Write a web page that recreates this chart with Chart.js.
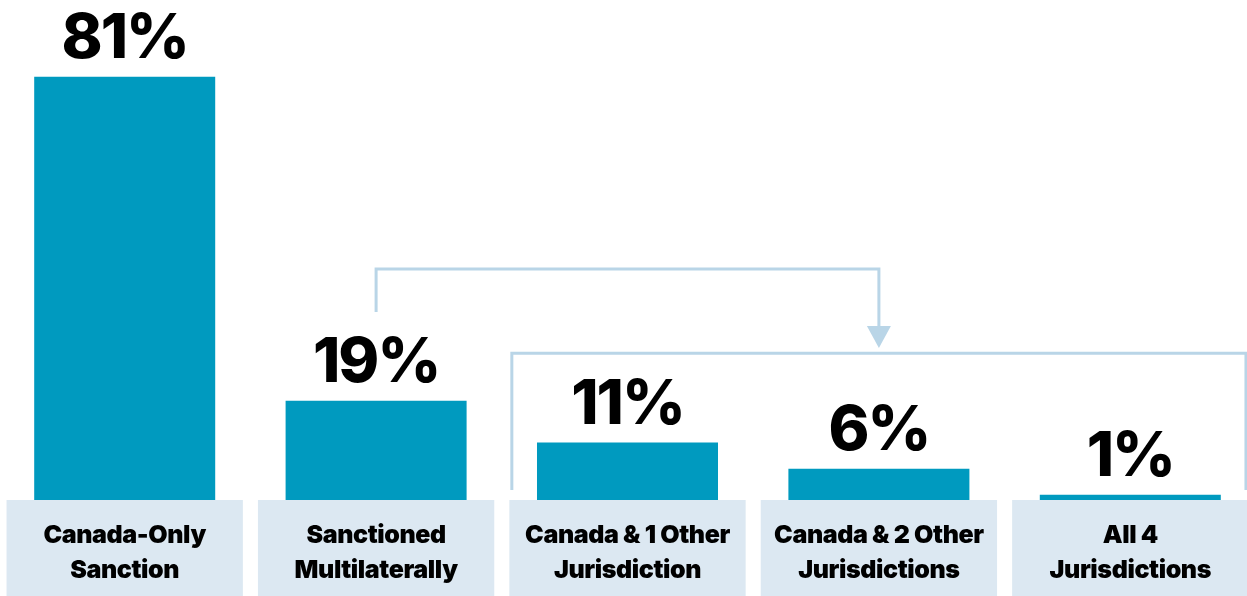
<!DOCTYPE html>
<html>
<head>
<meta charset="utf-8">
<script src="https://cdn.jsdelivr.net/npm/chart.js@4/dist/chart.umd.min.js"></script>
<style>
  html, body { margin: 0; padding: 0; background: #fff; overflow: hidden; }
  #wrap { position: absolute; left: -1px; top: 0; width: 1257px; height: 596px; }
</style>
</head>
<body>
<div id="wrap"><canvas id="chart"></canvas></div>
<script>
// Data
const categories = [
  ["Canada-Only", "Sanction"],
  ["Sanctioned", "Multilaterally"],
  ["Canada & 1 Other", "Jurisdiction"],
  ["Canada & 2 Other", "Jurisdictions"],
  ["All 4", "Jurisdictions"]
];
const shares = [81, 19, 11, 6, 1];
const valueLabels = ["81%", "19%", "11%", "6%", "1%"];

const barColor = "#009abf";
const boxColor = "#dce8f2";
const bracketColor = "#b9d5e7";

// bracket levels, in axis units
const topBracket = { from: 1, to: 3, start: 36, level: 44.2, tip: 29.1 };
const lowBracket = { from: 2, to: 4, level: 28.1, end: 1.9 };

const boxPlugin = {
  id: "boxes",
  afterDatasetsDraw(chart) {
    const ctx = chart.ctx;
    const x = chart.scales.x;
    const y = chart.scales.y;
    const area = chart.chartArea;
    const step = x.getPixelForValue(1) - x.getPixelForValue(0);
    const boxW = step * 0.94;

    ctx.save();
    // category boxes
    categories.forEach((lines, i) => {
      const cx = x.getPixelForValue(i);
      ctx.fillStyle = boxColor;
      ctx.fillRect(cx - boxW / 2, area.bottom, boxW, chart.height - area.bottom);
      ctx.fillStyle = "#000";
      ctx.font = "900 25px Inter";
      ctx.letterSpacing = "-0.4px";
      ctx.textAlign = "center";
      ctx.textBaseline = "middle";
      lines.forEach((t, j) => ctx.fillText(t, cx, area.bottom + 35 + j * 35));
    });

    // value labels
    const meta = chart.getDatasetMeta(0);
    ctx.font = "800 62px Inter";
    ctx.letterSpacing = "-2px";
    ctx.textBaseline = "alphabetic";
    meta.data.forEach((bar, i) => {
      ctx.fillText(valueLabels[i], bar.x, bar.y - 19);
    });

    // brackets
    ctx.strokeStyle = bracketColor;
    ctx.fillStyle = bracketColor;
    ctx.lineWidth = 3;
    const x1 = x.getPixelForValue(topBracket.from);
    const x2 = x.getPixelForValue(topBracket.to);
    const tipY = y.getPixelForValue(topBracket.tip);
    ctx.beginPath();
    ctx.moveTo(x1, y.getPixelForValue(topBracket.start));
    ctx.lineTo(x1, y.getPixelForValue(topBracket.level));
    ctx.lineTo(x2, y.getPixelForValue(topBracket.level));
    ctx.lineTo(x2, tipY - 20);
    ctx.stroke();
    ctx.beginPath();
    ctx.moveTo(x2 - 12, tipY - 22);
    ctx.lineTo(x2 + 12, tipY - 22);
    ctx.lineTo(x2, tipY);
    ctx.closePath();
    ctx.fill();

    const lx = x.getPixelForValue(lowBracket.from) - boxW / 2 + 2.5;
    const rx = x.getPixelForValue(lowBracket.to) + boxW / 2 - 2.5;
    ctx.beginPath();
    ctx.moveTo(lx, y.getPixelForValue(lowBracket.end));
    ctx.lineTo(lx, y.getPixelForValue(lowBracket.level));
    ctx.lineTo(rx, y.getPixelForValue(lowBracket.level));
    ctx.lineTo(rx, y.getPixelForValue(lowBracket.end));
    ctx.stroke();
    ctx.restore();
  }
};

document.fonts.load("900 25px Inter").finally(() => {
  new Chart(document.getElementById("chart"), {
    type: "bar",
    data: {
      labels: categories,
      datasets: [{
        data: shares,
        backgroundColor: barColor,
        barPercentage: 0.72,
        categoryPercentage: 1
      }]
    },
    options: {
      responsive: true,
      maintainAspectRatio: false,
      animation: false,
      layout: { padding: { top: 0, left: 0, right: 0, bottom: 96 } },
      plugins: { legend: { display: false }, tooltip: { enabled: false } },
      scales: {
        x: { display: false },
        y: { display: false, min: 0, max: 95.7 }
      }
    },
    plugins: [boxPlugin]
  });
});
</script>
</body>
</html>
